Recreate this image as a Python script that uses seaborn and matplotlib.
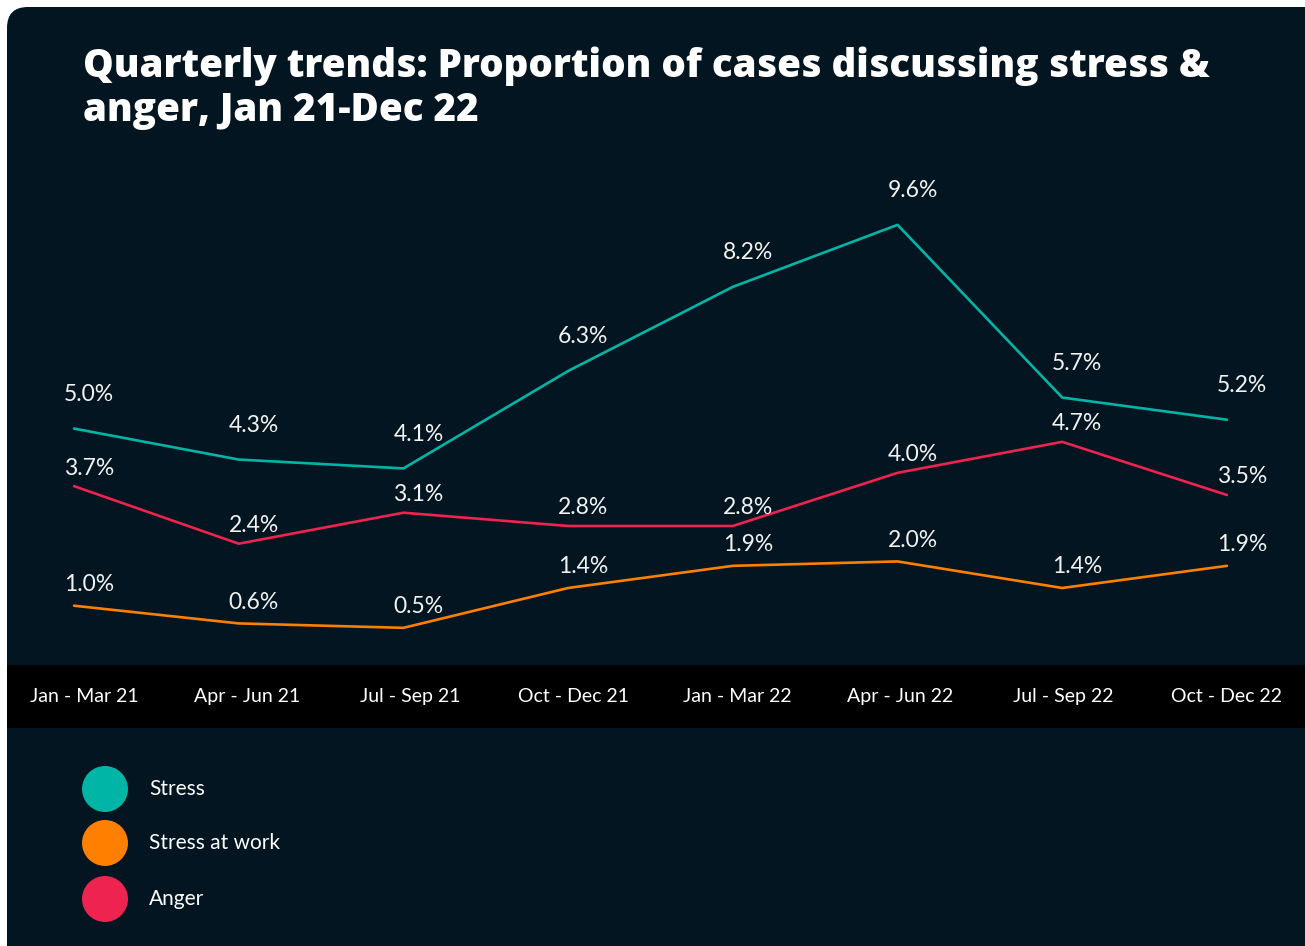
import matplotlib
matplotlib.use("Agg")
import matplotlib.pyplot as plt
from matplotlib.patches import FancyBboxPatch
import seaborn as sns
import pandas as pd

# Quarterly share of cases (%) per topic
quarters = ["Jan - Mar 21", "Apr - Jun 21", "Jul - Sep 21", "Oct - Dec 21",
            "Jan - Mar 22", "Apr - Jun 22", "Jul - Sep 22", "Oct - Dec 22"]
stress = [5.0, 4.3, 4.1, 6.3, 8.2, 9.6, 5.7, 5.2]
stress_at_work = [1.0, 0.6, 0.5, 1.4, 1.9, 2.0, 1.4, 1.9]
anger = [3.7, 2.4, 3.1, 2.8, 2.8, 4.0, 4.7, 3.5]
series_names = ["Stress", "Stress at work", "Anger"]

title = "Quarterly trends: Proportion of cases discussing stress &\nanger, Jan 21-Dec 22"

BG = "#021520"
colors = {"Stress": "#00B5A6", "Stress at work": "#FF7F00", "Anger": "#EE2350"}
label_lift = {"Stress": 34, "Stress at work": 21, "Anger": 18}

values = {"Stress": stress, "Stress at work": stress_at_work, "Anger": anger}
df = pd.DataFrame(
    [{"quarter": i, "series": s, "value": v}
     for s in series_names for i, v in enumerate(values[s])]
)

sns.set_theme(style="white")
plt.rcParams["font.family"] = ["Lato", "DejaVu Sans"]

W, H = 1305, 946
fig = plt.figure(figsize=(W / 100, H / 100), dpi=100)
fig.patch.set_facecolor("white")

# rounded dark card, open to the right and bottom edges
card = FancyBboxPatch((7 / W, -40 / H), (W + 40) / W, (H - 7 + 40) / H,
                      boxstyle="round,pad=0,rounding_size=0.016",
                      transform=fig.transFigure, facecolor=BG, edgecolor="none",
                      zorder=-10, mutation_aspect=W / H)
fig.patches.append(card)


def px_axes(x0, y0, x1, y1):
    return fig.add_axes([x0 / W, 1 - y1 / H, (x1 - x0) / W, (y1 - y0) / H])


# main line chart
ax = px_axes(7, 150, W, 665)
ax.set_facecolor("none")
sns.lineplot(data=df, x="quarter", y="value", hue="series", palette=colors,
             hue_order=series_names, linewidth=1.9, ax=ax, legend=False,
             sort=False)
ax.set_xlim(-0.407, 7.474)
ax.set_ylim(-0.339, 11.29)
for s in series_names:
    for i, v in enumerate(values[s]):
        ax.annotate(f"{v:.1f}%", (i, v), xytext=(15, label_lift[s]),
                    textcoords="offset pixels", ha="center", va="center",
                    color="#F2F2F2", fontsize=16.5)
ax.set_axis_off()

# category band
band = px_axes(7, 665, W, 728)
band.set_facecolor("black")
band.set_xlim(-0.4716, 7.4777)
band.set_ylim(0, 1)
for i, q in enumerate(quarters):
    band.text(i, 0.5, q, ha="center", va="center", color="white", fontsize=14)
for sp in band.spines.values():
    sp.set_visible(False)
band.set_xticks([])
band.set_yticks([])

# legend
leg = px_axes(0, 728, W, H)
leg.set_facecolor("none")
leg.set_xlim(0, W)
leg.set_ylim(H, 728)
leg.set_axis_off()
for s, yy in zip(series_names, [789, 843, 899]):
    leg.scatter([105], [yy], s=1096, color=colors[s], edgecolor="none")
    leg.text(149, yy, s, ha="left", va="center", color="white", fontsize=15)

fig.text(83 / W, 1 - 46 / H, title, ha="left", va="top", color="white",
         fontsize=27.7, fontweight=800, family=["Open Sans", "DejaVu Sans"],
         linespacing=1.17)

fig.savefig("out.png", dpi=100, facecolor=fig.get_facecolor())
